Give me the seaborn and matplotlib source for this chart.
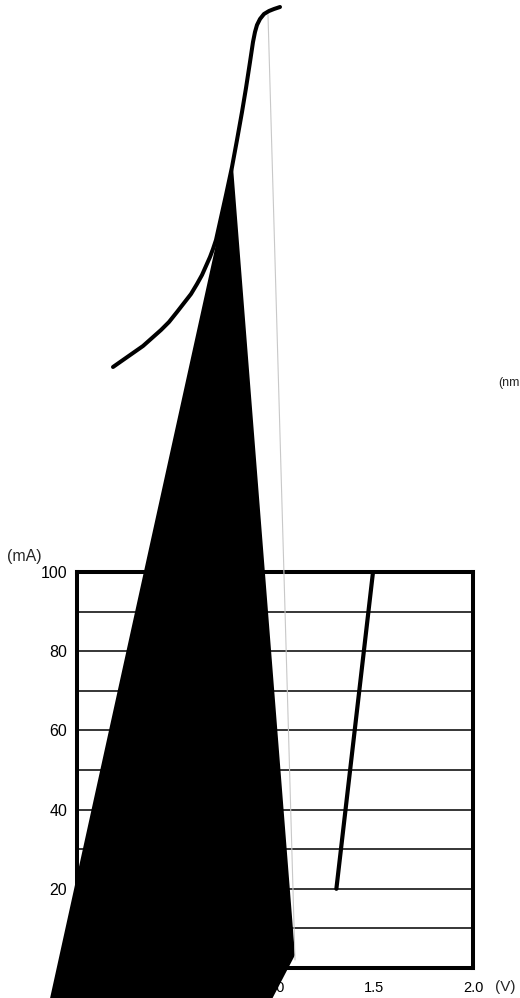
import matplotlib
matplotlib.use("Agg")
import matplotlib.pyplot as plt
import pandas as pd
import seaborn as sns

# Forward current vs forward voltage
voltage = [1.31, 1.495]
current = [20, 100]
x_ticks = [0, 0.5, 1.0, 1.5, 2.0]
x_labels = ["0", "0.5", "1.0", "1.5", "2.0"]
y_ticks = [0, 20, 40, 60, 80, 100]
y_grid = [10, 20, 30, 40, 50, 60, 70, 80, 90]

# leftovers of the broken spectrum panel above, in page pixels
curve_x = [113, 123, 133, 143, 152, 161, 169, 177, 184, 191, 197, 202, 206, 210,
           213, 216, 220, 226, 232, 237, 242, 246, 250, 253, 255, 257, 260, 264,
           269, 274, 280]
curve_y = [367, 360, 353, 346, 338, 330, 322, 312, 303, 294, 284, 275, 266, 257,
           249, 240, 222, 195, 167, 140, 112, 88, 62, 42, 32, 25, 19, 14,
           11, 9, 7]
wedge_x = [233, 295, 270, 49]
wedge_y = [167, 955, 1003, 1003]
hair_x = [268, 295]
hair_y = [15, 960]

sns.set_style("white")
plt.rcParams["font.family"] = ["Liberation Sans", "DejaVu Sans"]

fig = plt.figure(figsize=(5.2, 9.98), dpi=100)

# main I-V panel
ax = fig.add_axes([77 / 520, 30 / 998, 396 / 520, 396 / 998])
ax.hlines(y_grid, 0, 2.0, color="black", lw=1.1)
df = pd.DataFrame({"V": voltage, "I": current})
sns.lineplot(data=df, x="V", y="I", color="black", lw=3, ax=ax)
ax.set_xlim(0, 2.0)
ax.set_ylim(0, 100)
ax.set_xticks(x_ticks, x_labels)
ax.set_yticks(y_ticks)
ax.tick_params(length=0, colors="black")
ax.tick_params(axis="x", labelsize=10.5, pad=9)
ax.tick_params(axis="y", labelsize=11.5, pad=7)
ax.set_xlabel("")
ax.set_ylabel("")
for sp in ax.spines.values():
    sp.set_visible(True)
    sp.set_color("black")
    sp.set_linewidth(2.9)

fig.text(24 / 520, 1 - 557 / 998, "(mA)", ha="center", va="center", fontsize=11.5)
fig.text(505 / 520, 1 - 987 / 998, "(V)", ha="center", va="center", fontsize=11)
fig.text(498 / 520, 1 - 383 / 998, "(nm", ha="left", va="center", fontsize=9)

# overlay for the stray shapes
ov = fig.add_axes([0, 0, 1, 1])
ov.patch.set_alpha(0)
ov.plot(hair_x, hair_y, color="#c8c8c8", lw=0.8)
ov.fill(wedge_x, wedge_y, color="black", lw=0)
curve = pd.DataFrame({"x": curve_x, "y": curve_y})
sns.lineplot(data=curve, x="x", y="y", sort=False, color="black", lw=2.9, ax=ov)
ov.set_xlim(0, 520)
ov.set_ylim(998, 0)
ov.axis("off")

fig.savefig("out.png", dpi=100)
